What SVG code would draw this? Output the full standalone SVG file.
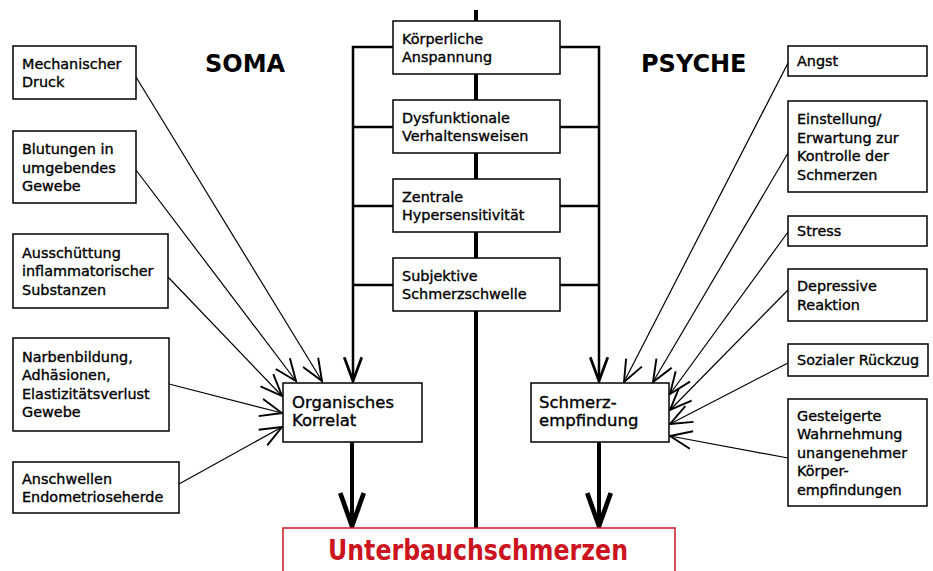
<svg xmlns="http://www.w3.org/2000/svg" width="933" height="571" viewBox="0 0 933 571">
<style>
.box{fill:#fff;stroke:#000;stroke-width:1.5}
.t{font-family:"DejaVu Sans",sans-serif;font-size:14.4px;fill:#000;stroke:#000;stroke-width:0.35}
.tm{font-family:"DejaVu Sans",sans-serif;font-size:16.5px;fill:#000;stroke:#000;stroke-width:0.35}
.h{font-family:"DejaVu Sans",sans-serif;font-size:24px;font-weight:bold;fill:#000}
.thin{stroke:#000;stroke-width:1.2;fill:none;marker-end:url(#ah)}
.mid{stroke:#000;stroke-width:2.5;fill:none}
.thick{stroke:#000;stroke-width:4;fill:none}
</style>
<defs>
<marker id="ah" markerUnits="userSpaceOnUse" markerWidth="30" markerHeight="30" viewBox="-20 -10 22 20" refX="0" refY="0" orient="auto" overflow="visible">
<path d="M-16,-6.5 L0,0 L-16,6.5" fill="none" stroke="#000" stroke-width="1.4"/>
</marker>
<marker id="ahm" markerUnits="userSpaceOnUse" markerWidth="30" markerHeight="30" viewBox="-22 -10 24 20" refX="0" refY="0" orient="auto" overflow="visible">
<path d="M-19,-7 L0,0 L-19,7" fill="none" stroke="#000" stroke-width="2.2"/>
</marker>
<marker id="ahb" markerUnits="userSpaceOnUse" markerWidth="40" markerHeight="40" viewBox="-32 -14 34 28" refX="0" refY="0" orient="auto" overflow="visible">
<path d="M-28,-10 L0,0 L-28,10" fill="none" stroke="#000" stroke-width="4"/>
</marker>
</defs>
<rect width="933" height="571" fill="#fff"/>

<g id="connectors">
<line class="thick" x1="476" y1="10" x2="476" y2="21"/>
<line class="thick" x1="476" y1="74" x2="476" y2="100"/>
<line class="thick" x1="476" y1="153" x2="476" y2="179"/>
<line class="thick" x1="476" y1="232" x2="476" y2="258"/>
<line class="thick" x1="476" y1="311" x2="476" y2="528"/>
<path class="mid" d="M393,47 H353 V381" marker-end="url(#ahm)"/>
<line class="mid" x1="353" y1="127" x2="393" y2="127"/>
<line class="mid" x1="353" y1="206" x2="393" y2="206"/>
<line class="mid" x1="353" y1="285" x2="393" y2="285"/>
<path class="mid" d="M560,47 H599 V381" marker-end="url(#ahm)"/>
<line class="mid" x1="560" y1="127" x2="599" y2="127"/>
<line class="mid" x1="560" y1="206" x2="599" y2="206"/>
<line class="mid" x1="560" y1="285" x2="599" y2="285"/>
<line class="thick" x1="352" y1="442" x2="352" y2="526" marker-end="url(#ahb)"/>
<line class="thick" x1="599" y1="442" x2="599" y2="526" marker-end="url(#ahb)"/>
<line class="thin" x1="136" y1="77" x2="322" y2="381"/>
<line class="thin" x1="136" y1="170" x2="296" y2="381"/>
<line class="thin" x1="168" y1="277" x2="282" y2="396"/>
<line class="thin" x1="169" y1="384" x2="282" y2="413"/>
<line class="thin" x1="179" y1="484" x2="282" y2="427"/>
<line class="thin" x1="788" y1="63" x2="624" y2="382"/>
<line class="thin" x1="788" y1="153" x2="653" y2="382"/>
<line class="thin" x1="788" y1="232" x2="670" y2="394"/>
<line class="thin" x1="788" y1="290" x2="670" y2="410"/>
<line class="thin" x1="788" y1="363" x2="670" y2="424"/>
<line class="thin" x1="788" y1="458" x2="670" y2="436"/>
</g>

<g id="soma-title"><text class="h" x="205" y="72">SOMA</text></g>
<g id="psyche-title"><text class="h" x="641" y="72">PSYCHE</text></g>

<g id="c1"><rect class="box" x="393" y="21" width="167" height="53"/>
<text class="t" x="402" y="43.5">Körperliche</text><text class="t" x="402" y="62">Anspannung</text></g>
<g id="c2"><rect class="box" x="393" y="100" width="167" height="53"/>
<text class="t" x="402" y="122.5">Dysfunktionale</text><text class="t" x="402" y="141">Verhaltensweisen</text></g>
<g id="c3"><rect class="box" x="393" y="179" width="167" height="53"/>
<text class="t" x="402" y="201.5">Zentrale</text><text class="t" x="402" y="220">Hypersensitivität</text></g>
<g id="c4"><rect class="box" x="393" y="258" width="167" height="53"/>
<text class="t" x="402" y="280.5">Subjektive</text><text class="t" x="402" y="299">Schmerzschwelle</text></g>

<g id="l1"><rect class="box" x="13" y="46" width="123" height="53"/>
<text class="t" x="22" y="68.5">Mechanischer</text><text class="t" x="22" y="87">Druck</text></g>
<g id="l2"><rect class="box" x="13" y="131" width="123" height="72"/>
<text class="t" x="22" y="154">Blutungen in</text><text class="t" x="22" y="172.5">umgebendes</text><text class="t" x="22" y="191">Gewebe</text></g>
<g id="l3"><rect class="box" x="13" y="234" width="155" height="74"/>
<text class="t" x="22" y="257.5">Ausschüttung</text><text class="t" x="22" y="276">inflammatorischer</text><text class="t" x="22" y="294.5">Substanzen</text></g>
<g id="l4"><rect class="box" x="13" y="338" width="156" height="93"/>
<text class="t" x="22" y="361.5">Narbenbildung,</text><text class="t" x="22" y="380">Adhäsionen,</text><text class="t" x="22" y="398.5">Elastizitätsverlust</text><text class="t" x="22" y="417">Gewebe</text></g>
<g id="l5"><rect class="box" x="13" y="462" width="166" height="51"/>
<text class="t" x="22" y="483.5">Anschwellen</text><text class="t" x="22" y="502">Endometrioseherde</text></g>

<g id="r1"><rect class="box" x="788" y="46" width="139" height="30"/>
<text class="t" x="797" y="66">Angst</text></g>
<g id="r2"><rect class="box" x="788" y="101" width="139" height="91"/>
<text class="t" x="797" y="124">Einstellung/</text><text class="t" x="797" y="142.5">Erwartung zur</text><text class="t" x="797" y="161">Kontrolle der</text><text class="t" x="797" y="179.5">Schmerzen</text></g>
<g id="r3"><rect class="box" x="788" y="216" width="139" height="30"/>
<text class="t" x="797" y="236">Stress</text></g>
<g id="r4"><rect class="box" x="788" y="269" width="139" height="52"/>
<text class="t" x="797" y="291">Depressive</text><text class="t" x="797" y="309.5">Reaktion</text></g>
<g id="r5"><rect class="box" x="788" y="344" width="140" height="32"/>
<text class="t" x="797" y="365">Sozialer Rückzug</text></g>
<g id="r6"><rect class="box" x="788" y="399" width="139" height="107"/>
<text class="t" x="797" y="420.5">Gesteigerte</text><text class="t" x="797" y="439">Wahrnehmung</text><text class="t" x="797" y="457.5">unangenehmer</text><text class="t" x="797" y="476">Körper-</text><text class="t" x="797" y="494.5">empfindungen</text></g>

<g id="organisch"><rect class="box" x="283" y="383" width="139" height="59"/>
<text class="tm" x="292" y="407.5">Organisches</text><text class="tm" x="292" y="426">Korrelat</text></g>
<g id="schmerzempfindung"><rect class="box" x="531" y="383" width="138" height="59"/>
<text class="tm" x="539" y="407.5">Schmerz-</text><text class="tm" x="539" y="426">empfindung</text></g>

<g id="unterbauch"><rect x="283" y="528" width="392" height="60" fill="#fff" stroke="#cc1420" stroke-width="1.5"/>
<text x="478" y="560" text-anchor="middle" textLength="300" lengthAdjust="spacingAndGlyphs" font-family="DejaVu Sans, sans-serif" font-size="28" font-weight="bold" fill="#cc1420">Unterbauchschmerzen</text></g>
</svg>
